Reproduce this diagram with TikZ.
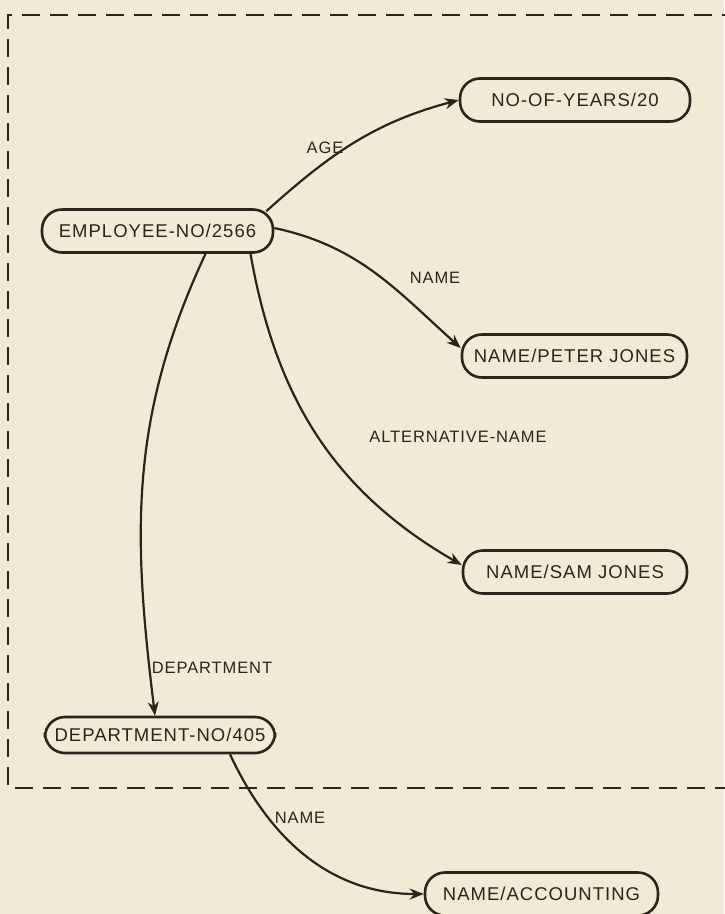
\documentclass[tikz,border=0pt]{standalone}
\usepackage{fontspec}
\setmainfont{Liberation Sans}[LetterSpace=5.5]
\usetikzlibrary{arrows.meta}
\definecolor{paper}{HTML}{F1EBD6}
\definecolor{ink}{HTML}{2A241A}
\begin{document}
\begin{tikzpicture}[x=1pt,y=1pt,
        item/.style={rectangle,rounded corners=20pt,draw=ink,line width=2.6pt,text=ink,
            minimum height=43pt,inner xsep=0pt,font=\fontsize{18.5}{20}\selectfont},
        tag/.style={text=ink,font=\fontsize{16.5}{18}\selectfont},
        link/.style={draw=ink,line width=2.2pt,rounded corners=0pt,-{Stealth[length=14pt,width=11pt]}}]
        \useasboundingbox[fill=paper] (0,0) rectangle (724,-914);
        \draw[ink,line width=2.4pt,dash pattern=on 18pt off 10pt] (740,-15)--(8,-15)--(8,-788)--(740,-788);

        \node[item,minimum width=231pt] (emp) at (157.5,-231) {EMPLOYEE-NO/2566};
        \node[item,minimum width=230pt] (years) at (575,-100) {NO-OF-YEARS/20};
        \node[item,minimum width=225pt] (peter) at (574.5,-356) {NAME/PETER JONES};
        \node[item,minimum width=224pt] (sam) at (575,-572) {NAME/SAM JONES};
        \node[item,minimum width=230pt,minimum height=36pt] (dept) at (160,-735) {DEPARTMENT-NO/405};
        \node[item,minimum width=233pt] (acc) at (541.5,-894) {NAME/ACCOUNTING};

        \node[tag] (agetag) at (325,-148) {AGE};
        \node[tag] (nametag) at (435,-278) {NAME};
        \node[tag] (alttag) at (458,-437) {ALTERNATIVE-NAME};
        \node[tag] (depttag) at (212,-668) {DEPARTMENT};
        \node[tag] (acctag) at (300,-818) {NAME};

        \draw[link] ([xshift=-8pt,yshift=-3pt]emp.north east) to[out=42,in=195] (years.west);
        \draw[link] ([yshift=3pt]emp.east) to[out=-12,in=138] ([yshift=8pt]peter.west);
        \draw[link] ([xshift=93pt]emp.south) to[out=-80,in=150] ([yshift=7pt]sam.west);
        \draw[link] ([xshift=48pt]emp.south) to[out=-115,in=97] ([xshift=-5pt]dept.north);
        \draw[link] ([xshift=70pt]dept.south) to[out=-65,in=180] (acc.west);
    \end{tikzpicture}
\end{document}
